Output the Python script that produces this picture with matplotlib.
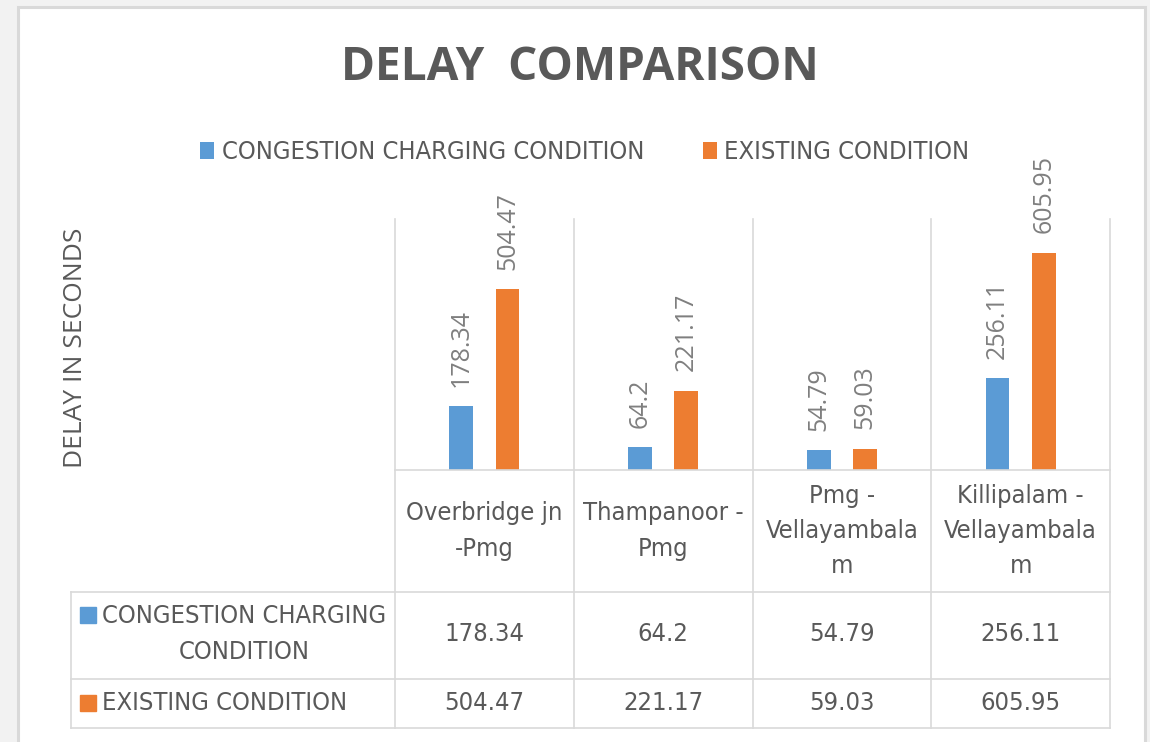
import numpy as np
import matplotlib.pyplot as plt
from matplotlib import font_manager as fm
from matplotlib.lines import Line2D
from matplotlib.patches import Rectangle
from matplotlib.transforms import blended_transform_factory

# data
categories = ["Overbridge jn\n-Pmg", "Thampanoor -\nPmg",
              "Pmg -\nVellayambala\nm", "Killipalam -\nVellayambala\nm"]
congestion = [178.34, 64.2, 54.79, 256.11]
existing = [504.47, 221.17, 59.03, 605.95]
series_names = ["CONGESTION CHARGING CONDITION", "EXISTING CONDITION"]
row_labels = ["CONGESTION CHARGING\nCONDITION", "EXISTING CONDITION"]

BLUE = "#5b9bd5"
ORANGE = "#ed7d31"
TXT = "#595959"
GRID = "#d9d9d9"
OPEN = ["Open Sans", "DejaVu Sans"]

W, H = 1150, 742

# narrow font for the table / legend text (Calibri-like look)
cond = [f.fname for f in fm.fontManager.ttflist
        if f.name == "DejaVu Sans" and f.stretch == "condensed"
        and f.style == "normal" and f.weight in (400, "normal", "book")]
if cond:
    NARROW = fm.FontProperties(fname=cond[0])
else:
    NARROW = fm.FontProperties(family=["Roboto", "DejaVu Sans"])


def fx(px):
    return px / W


def fy(py):
    return 1 - py / H


fig = plt.figure(figsize=(W / 100, H / 100), dpi=100, facecolor="#f2f2f2")

# fit the narrow font so the legend label is as wide as in the picture
r = fig.canvas.get_renderer()
probe = fig.text(0, 0, series_names[0], fontproperties=NARROW, fontsize=20)
w20 = probe.get_window_extent(r).width
probe.remove()
FS = 20 * 423 / w20
NARROW.set_size(FS)

# white chart panel with gray frame
fig.add_artist(Rectangle((fx(17.5), fy(760)), fx(1127), 753.5 / H,
                         transform=fig.transFigure, facecolor="white",
                         edgecolor=GRID, linewidth=2.2, zorder=0))

# plot area
ax = fig.add_axes([fx(395), fy(470), fx(715), 251 / H])
x = np.arange(len(categories))
bw = 0.133
b1 = ax.bar(x - 0.13, congestion, bw, color=BLUE, label=series_names[0])
b2 = ax.bar(x + 0.13, existing, bw, color=ORANGE, label=series_names[1])
ax.set_xlim(-0.5, len(categories) - 0.5)
ax.set_ylim(0, 700)
ax.axis("off")

for bars, vals in [(b1, congestion), (b2, existing)]:
    for rect, v in zip(bars, vals):
        ax.annotate(f"{v:g}", (rect.get_x() + rect.get_width() / 2, v),
                    xytext=(0, 14), textcoords="offset points",
                    rotation=90, ha="center", va="bottom",
                    fontsize=18, color="#7f7f7f", family=OPEN)

# grid / data table lines
bt = blended_transform_factory(ax.transData, fig.transFigure)
for b in np.arange(len(categories) + 1) - 0.5:
    fig.add_artist(Line2D([b, b], [fy(219), fy(728)], transform=bt,
                          color=GRID, lw=1.2))
fig.add_artist(Line2D([fx(395), fx(1110)], [fy(470), fy(470)],
                      transform=fig.transFigure, color=GRID, lw=1.2))
for yy in [592, 679, 728]:
    fig.add_artist(Line2D([fx(71), fx(1110)], [fy(yy), fy(yy)],
                          transform=fig.transFigure, color=GRID, lw=1.2))
fig.add_artist(Line2D([fx(71), fx(71)], [fy(592), fy(728)],
                      transform=fig.transFigure, color=GRID, lw=1.2))

# category labels and values
for i, c in enumerate(categories):
    fig.text(x[i], fy(531), c, transform=bt, ha="center", va="center",
             multialignment="center", fontproperties=NARROW, color=TXT,
             linespacing=1.58)
    fig.text(x[i], fy(634), f"{congestion[i]:g}", transform=bt, ha="center",
             va="center", fontproperties=NARROW, color=TXT)
    fig.text(x[i], fy(703), f"{existing[i]:g}", transform=bt, ha="center",
             va="center", fontproperties=NARROW, color=TXT)

# row labels with colour keys
for lab, col, yc, sq in [(row_labels[0], BLUE, 634, 615),
                         (row_labels[1], ORANGE, 703, 703)]:
    fig.add_artist(Rectangle((fx(80), fy(sq + 8)), fx(16), 16 / H,
                             transform=fig.transFigure, color=col))
    fig.text(fx(102), fy(yc), lab, ha="left", va="center",
             multialignment="center", fontproperties=NARROW, color=TXT,
             linespacing=1.58)

# title, axis label, legend
fig.text(fx(580), fy(68), "DELAY  COMPARISON", ha="center", va="center",
         fontsize=33, fontweight="bold", color=TXT, family=OPEN)
fig.text(fx(75), fy(348), "DELAY IN SECONDS", rotation=90, ha="center",
         va="center", fontsize=19, color=TXT, family=OPEN)

fig.legend(handles=[b1, b2], loc="center", ncol=2,
           bbox_to_anchor=(fx(585), fy(152)), frameon=False,
           prop=NARROW, handlelength=0.55, handleheight=0.65,
           handletextpad=0.3, columnspacing=2.3, labelcolor=TXT)

fig.savefig("out.png", dpi=100, facecolor=fig.get_facecolor())
